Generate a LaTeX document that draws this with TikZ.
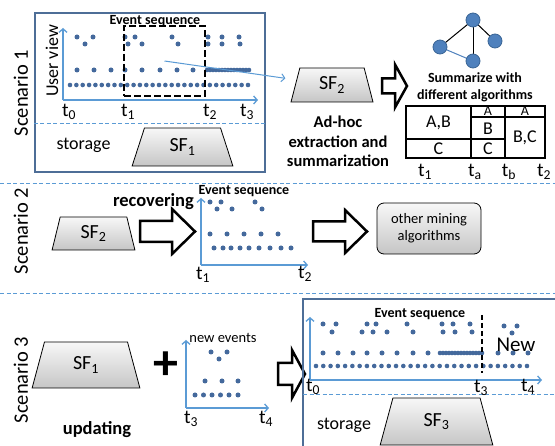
\documentclass[tikz,border=0pt]{standalone}
\usepackage{fontspec}
\setmainfont{Carlito}
\usetikzlibrary{shapes.geometric,arrows.meta}
\pgfdeclarelayer{bg}
\pgfsetlayers{bg,main}
\definecolor{dotblue}{HTML}{44699C}
\definecolor{axblue}{HTML}{5B9BD5}
\definecolor{boxblue}{HTML}{4E6E97}
\definecolor{nodeblue}{HTML}{4F81BD}
\definecolor{nodeedge}{HTML}{3A6595}
\newcommand{\myfs}[2]{\fontsize{#1}{#2}\selectfont}
\newcommand{\dotrow}[2]{\foreach \x in {#2} \fill[dotblue] (\x,#1) circle (2.5pt);}
\newcommand{\blockarrow}[6]{%
  \draw[barrow] (#1,#4-#5) -- (#2,#4-#5) -- (#2,#4-#6) -- (#3,#4) -- (#2,#4+#6) -- (#2,#4+#5) -- (#1,#4+#5) -- cycle;}
\begin{document}
\begin{tikzpicture}[x=1pt,y=-1pt,
  txt/.style={inner sep=0pt,font=\myfs{18}{20}},
  scen/.style={inner sep=0pt,font=\myfs{20.5}{22},rotate=90},
  tl/.style={inner sep=0pt,font=\myfs{19.5}{20}},
  evt/.style={inner sep=0pt,font=\myfs{14}{16}\bfseries},
  bold/.style={inner sep=0pt,font=\myfs{18.5}{20}\bfseries},
  sbox/.style={draw=boxblue,line width=2.5pt},
  sep/.style={draw=axblue,line width=0.9pt,dash pattern=on 4pt off 2.5pt},
  axis/.style={draw=axblue,line width=1.3pt,-{Straight Barb[length=3.5pt,width=8pt]}},
  conn/.style={draw=axblue,line width=1pt,-{Straight Barb[length=3.5pt,width=8pt]},shorten >=11pt},
  sf/.style={trapezium,trapezium stretches=true,draw=black,line width=0.8pt,
     top color=gray!6,bottom color=gray!45,font=\myfs{20}{22},inner sep=0pt},
  barrow/.style={draw=black,fill=white,line width=2.5pt,miter limit=20},
  tab/.style={draw=black,line width=2.4pt},
  gnode/.style={circle,fill=nodeblue,draw=nodeedge,line width=0.8pt,minimum size=14pt,inner sep=0pt},
  gedge/.style={draw=black,line width=1pt},
]
\useasboundingbox (0,0) rectangle (555,446);

% ---------------- separators
\draw[sep] (0,183) -- (555,183);
\draw[sep] (0,293) -- (555,293);

% ================= Scenario 1
\node[sbox,minimum width=230pt,minimum height=159pt,inner sep=0pt] (box1) at (150,92.5) {};
\node[scen] (sc1) at (21,93) {Scenario 1};
\node[txt,rotate=90] (uv) at (52,61) {User view};
\draw[sep] (box1.west |- 0,123) -- (box1.east |- 0,123);
\node[txt] (st1) at (83.5,145) {storage};
\node[sf,trapezium left angle=75.3,trapezium right angle=75.3,minimum width=101pt,minimum height=38pt] (sf1a) at (182.5,147) {SF\textsubscript{1}};

% dots scenario 1
\dotrow{37}{77,93,125,135,172,208,222,239}
\dotrow{44}{85,128,142,178,208,222,240}
\dotrow{70}{77,94,111,125,142,160,177,193}
\foreach \x in {207,210,...,249} \fill[dotblue] (\x,70) circle (2.3pt);
\foreach \i in {0,...,28} \fill[dotblue] (70+6.357*\i,85) circle (2.3pt);

\coordinate (o1) at (63,100);
\draw[axis] (o1) -- (63,28);
\draw[axis] (o1) -- (258,100);
\node[tl] (a1t0) at (69,112) {t\textsubscript{0}};
\node[tl] (a1t1) at (128,112) {t\textsubscript{1}};
\node[tl] (a1t2) at (210,112) {t\textsubscript{2}};
\node[tl] (a1t3) at (247,112) {t\textsubscript{3}};

\node[draw=black,line width=2.2pt,dash pattern=on 7pt off 3pt,minimum width=81pt,minimum height=70pt,inner sep=0pt] (es1) at (164.5,61) {};
\node[evt] (es1l) at (155,21.5) {Event sequence};

\node[sf,trapezium left angle=77.5,trapezium right angle=77.5,minimum width=82pt,minimum height=34pt] (sf2a) at (332,85) {SF\textsubscript{2}};
\draw[conn] (es1.center) -- (sf2a);

\node[inner sep=0pt,font=\myfs{16.5}{19.5}\bfseries,align=center] (adhoc) at (338,141.5) {Ad-hoc\\extraction and\\summarization};

\blockarrow{382}{395}{407}{86}{7.5}{21.5}

% graph
\node[gnode] (g1) at (473,20) {};
\node[gnode] (g2) at (440,47) {};
\node[gnode] (g3) at (495,41) {};
\node[gnode] (g4) at (473,61) {};
\begin{pgfonlayer}{bg}
\draw[gedge] (g1.center) -- (g2.center);
\draw[gedge] (g1.center) -- (g3.center);
\draw[gedge] (g1.center) -- (g4.center);
\draw[gedge,draw=nodeblue] (g2.center) -- (g4.center);
\end{pgfonlayer}

\node[inner sep=0pt,font=\myfs{14}{17}\bfseries,align=center] (summ) at (475,87.5) {Summarize with\\different algorithms};

% table
\draw[tab] (406,106) rectangle (545,158);
\draw[tab] (471,106) -- (471,158);
\draw[tab] (505,106) -- (505,158);
\draw[tab] (471,117) -- (545,117);
\draw[tab] (406,139) -- (505,139);
\node[txt] (cAB) at (438.5,122.5) {A,B};
\node[txt] (cC1) at (438.5,149) {C};
\node[inner sep=0pt,font=\myfs{14}{16}] (cA1) at (488,111.5) {A};
\node[txt] (cB) at (488,128.5) {B};
\node[txt] (cC2) at (488,149) {C};
\node[inner sep=0pt,font=\myfs{14}{16}] (cA2) at (525,111.5) {A};
\node[txt] (cBC) at (525,137.5) {B,C};
\node[tl] (tt1) at (425,172) {t\textsubscript{1}};
\node[tl] (tta) at (475,172) {t\textsubscript{a}};
\node[tl] (ttb) at (509,172) {t\textsubscript{b}};
\node[tl] (tt2) at (544,172) {t\textsubscript{2}};

% ================= Scenario 2
\node[scen] (sc2) at (21,231) {Scenario 2};
\node[sf,trapezium left angle=78.9,trapezium right angle=78.9,minimum width=83pt,minimum height=33pt] (sf2b) at (93.5,233.5) {SF\textsubscript{2}};
\node[bold] (rec) at (153.5,202) {recovering};
\blockarrow{140}{172}{195}{231.5}{10.5}{22.5}

\coordinate (o2) at (201,265);
\draw[axis] (o2) -- (201,198);
\draw[axis] (o2) -- (308,265);
\node[evt] (es2l) at (244,191.5) {Event sequence};
\node[tl] (b2t1) at (203,275) {t\textsubscript{1}};
\node[tl] (b2t2) at (305,274) {t\textsubscript{2}};
\dotrow{202}{210,221,255}
\dotrow{209}{217,232,262}
\dotrow{234}{210,227,244,261,278}
\dotrow{248}{214,223,231,240,249,259,270,281,291}

\blockarrow{313}{345}{367}{231.5}{10}{21.5}
\node[draw=black,line width=0.8pt,rounded corners=7pt,top color=gray!6,bottom color=gray!45,
  minimum width=104pt,minimum height=51pt,inner sep=0pt,align=center,font=\myfs{14.5}{17}] (other) at (429,228.5) {other mining\\algorithms};

% ================= Scenario 3
\node[scen] (sc3) at (21,380) {Scenario 3};
\node[sf,trapezium left angle=76.5,trapezium right angle=76.5,minimum width=108pt,minimum height=46pt] (sf1b) at (86,365) {SF\textsubscript{1}};
\node[inner sep=0pt,font=\myfs{50}{50}\bfseries] (plus) at (165.5,366) {+};
\node[bold] (upd) at (97,430) {updating};

\coordinate (o3) at (186,408);
\draw[axis] (o3) -- (186,340);
\draw[axis] (o3) -- (269,408);
\node[inner sep=0pt,font=\myfs{14.5}{16}] (newev) at (223,337.5) {new events};
\node[tl] (c3t3) at (191,419) {t\textsubscript{3}};
\node[tl] (c3t4) at (266,419) {t\textsubscript{4}};
\dotrow{352}{211,227}
\dotrow{359}{219}
\dotrow{381}{205,222,238}
\dotrow{395}{195,203.5,212,220.5,229,238}

\blockarrow{278}{292}{305}{374}{11}{24}

% big box
\draw[sbox] (303,446) -- (303,299) -- (555,299);
\draw[sep] (303,394) -- (555,394);
\node[txt] (st3) at (344,425) {storage};
\node[sf,trapezium left angle=76.8,trapezium right angle=76.8,minimum width=113pt,minimum height=47pt] (sf3) at (436.5,421.5) {SF\textsubscript{3}};

\dotrow{324}{323,336,367,376,407,442,453,470}
\dotrow{332}{332,362,373,387,413,443,455,472}
\dotrow{326}{504,517}
\dotrow{333}{512}
\dotrow{353}{323,338,353,367,382,397,413,428,498,513,528}
\foreach \x in {440,443,...,483} \fill[dotblue] (\x,353) circle (2.3pt);
\foreach \i in {0,...,29} \fill[dotblue] (316+7.276*\i,366) circle (2.3pt);

\coordinate (o4) at (310,380);
\draw[axis] (o4) -- (310,317);
\draw[axis] (o4) -- (542,380);
\node[evt] (es3l) at (420,314) {Event sequence};
\coordinate (d3a) at (482,315);
\coordinate (d3b) at (482,373);
\draw[black,line width=1.6pt,dash pattern=on 5pt off 3pt] (d3a) -- (d3b);
\node[inner sep=0pt,font=\myfs{21}{22}] (newl) at (516,345) {New};
\node[tl] (d3t0) at (313,387) {t\textsubscript{0}};
\node[tl] (d3t3) at (481,388) {t\textsubscript{3}};
\node[tl] (d3t4) at (528,387) {t\textsubscript{4}};
\end{tikzpicture}
\end{document}
